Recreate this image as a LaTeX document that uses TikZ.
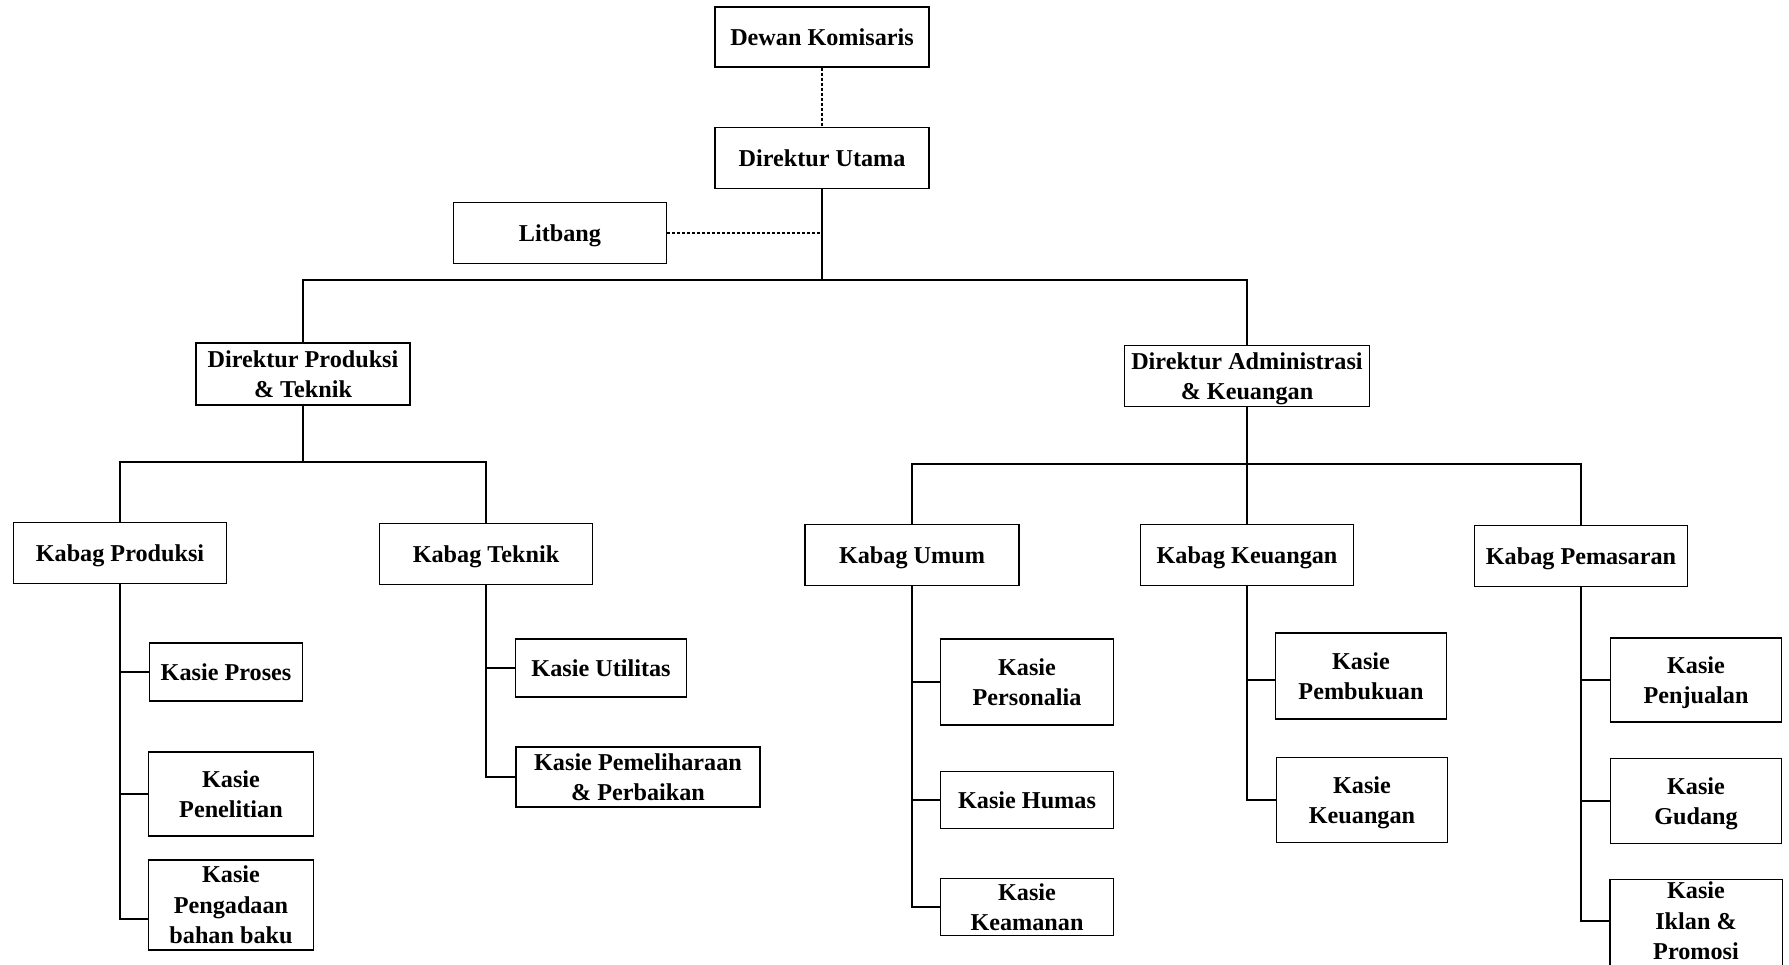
\documentclass[tikz,border=0pt]{standalone}
\usepackage{fontspec}
\setmainfont{Liberation Serif}
\begin{document}
\begin{tikzpicture}[x=1pt,y=-1pt,
  box/.style={draw, line width=1.5pt, align=center, inner sep=0pt,
    text depth=0pt,
    font=\bfseries\fontsize{24.2}{30.5}\selectfont},
  link/.style={line width=1.3pt},
  dlink/.style={line width=1.2pt, dash pattern=on 3pt off 2pt}]
\useasboundingbox (0,0) rectangle (1789,965);
\fill[white] (0,0) rectangle (1789,965);

% top levels
\node[box, minimum width=214pt, minimum height=60pt] (dewan) at (822,37) {Dewan Komisaris};
\node[box, minimum width=214pt, minimum height=61pt] (utama) at (822,158) {Direktur Utama};
\node[box, minimum width=213pt, minimum height=61pt] (litbang) at (560,233) {Litbang};
\node[box, minimum width=214pt, minimum height=62pt] (dpt) at (303,374) {Direktur Produksi\\\& Teknik};
\node[box, minimum width=245pt, minimum height=61pt] (dak) at (1247,376) {Direktur Administrasi\\\& Keuangan};

% kabag
\node[box, minimum width=213pt, minimum height=61pt] (kprod) at (120,553) {Kabag Produksi};
\node[box, minimum width=213pt, minimum height=61pt] (ktek) at (486,554) {Kabag Teknik};
\node[box, minimum width=214pt, minimum height=61pt] (kumum) at (912,555) {Kabag Umum};
\node[box, minimum width=213pt, minimum height=61pt] (kkeu) at (1247,555) {Kabag Keuangan};
\node[box, minimum width=213pt, minimum height=61pt] (kpem) at (1581,556) {Kabag Pemasaran};

% kasie
\node[box, minimum width=153pt, minimum height=58pt] (kproses) at (226,672) {Kasie Proses};
\node[box, minimum width=165pt, minimum height=84pt] (kpenel) at (231,794) {Kasie\\Penelitian};
\node[box, minimum width=165pt, minimum height=90pt] (kpeng) at (231,905) {Kasie\\Pengadaan\\bahan baku};
\node[box, minimum width=171pt, minimum height=58pt] (kutil) at (601,668) {Kasie Utilitas};
\node[box, minimum width=244pt, minimum height=60pt] (kpeml) at (638,777) {Kasie Pemeliharaan\\\& Perbaikan};
\node[box, minimum width=173pt, minimum height=86pt] (kpers) at (1027,682) {Kasie\\Personalia};
\node[box, minimum width=173pt, minimum height=57pt] (khumas) at (1027,800) {Kasie Humas};
\node[box, minimum width=173pt, minimum height=57pt] (kkeam) at (1027,907) {Kasie\\Keamanan};
\node[box, minimum width=171pt, minimum height=86pt] (kpemb) at (1361,676) {Kasie\\Pembukuan};
\node[box, minimum width=171pt, minimum height=85pt] (kkeu2) at (1362,800) {Kasie\\Keuangan};
\node[box, minimum width=171pt, minimum height=84pt] (kpenj) at (1696,680) {Kasie\\Penjualan};
\node[box, minimum width=171pt, minimum height=85pt] (kgud) at (1696,801) {Kasie\\Gudang};
\node[box, draw=none, minimum width=171pt, minimum height=82pt] (kiklan) at (1696,921) {Kasie\\Iklan \&\\Promosi};
\draw[line width=1.5pt] ([yshift=-40pt]kiklan.south west) |- (kiklan.north east) -- ([yshift=-40pt]kiklan.south east);

% junctions
\coordinate (j1) at (822,280);
\coordinate (j2) at (303,462);
\coordinate (j3) at (1247,464);

% connectors
\draw[dlink] (dewan) -- (utama);
\draw[dlink] (litbang.east) -- (litbang.east -| utama.south);
\draw[link] (utama) -- (j1);
\draw[link] (dpt.north) |- (j1) -| (dak.north);
\draw[link] (dpt) -- (j2);
\draw[link] (kprod.north) |- (j2) -| (ktek.north);
\draw[link] (dak) -- (kkeu);
\draw[link] (kumum.north) |- (j3) -| (kpem.north);

\draw[link] (kprod.south) |- (kproses.west);
\draw[link] (kprod.south) |- (kpenel.west);
\draw[link] (kprod.south) |- ([yshift=-14pt]kpeng.west);

\draw[link] (ktek.south) |- (kutil.west);
\draw[link] (ktek.south) |- (kpeml.west);

\draw[link] (kumum.south) |- (kpers.west);
\draw[link] (kumum.south) |- (khumas.west);
\draw[link] (kumum.south) |- (kkeam.west);

\draw[link] (kkeu.south) |- ([yshift=-4pt]kpemb.west);
\draw[link] (kkeu.south) |- (kkeu2.west);

\draw[link] (kpem.south) |- (kpenj.west);
\draw[link] (kpem.south) |- (kgud.west);
\draw[link] (kpem.south) |- (kiklan.west);
\end{tikzpicture}
\end{document}
